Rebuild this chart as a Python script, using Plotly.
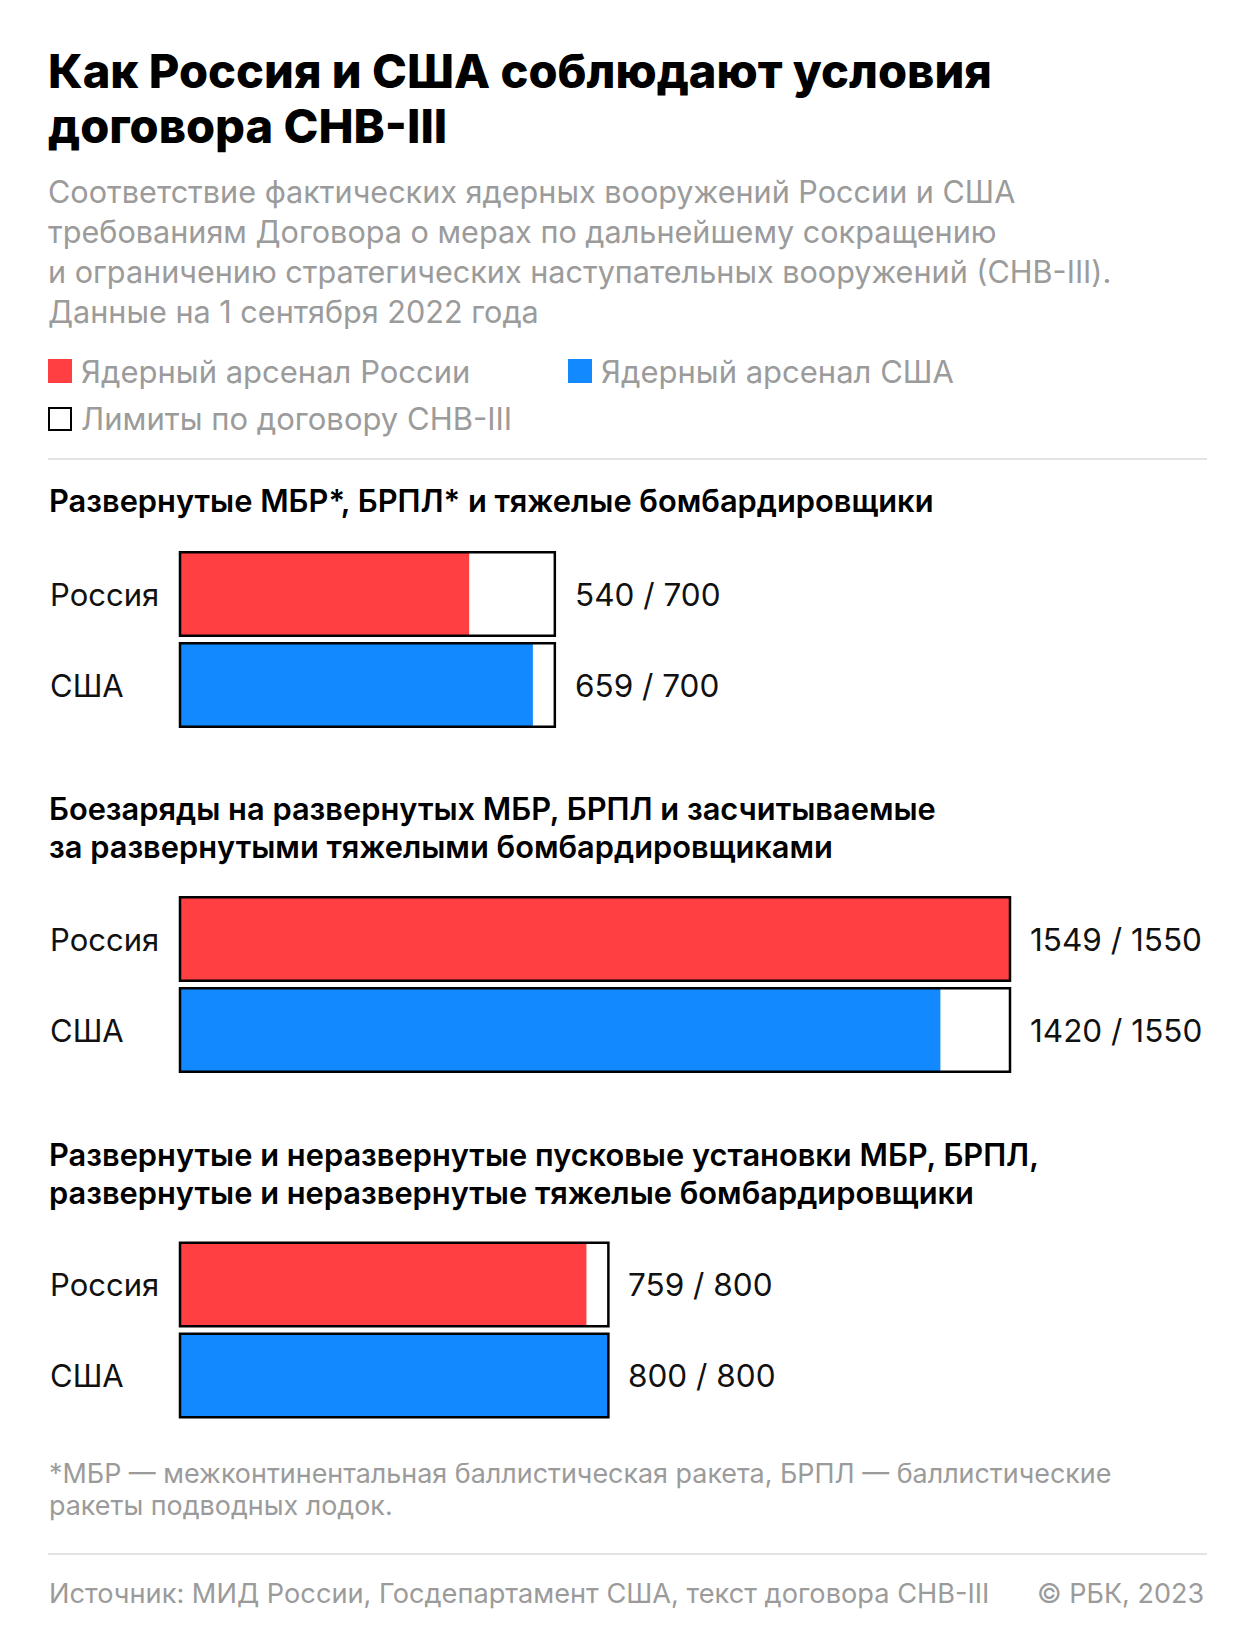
import plotly.graph_objects as go

W, H = 1240, 1636

categories = ["Россия", "США"]
section_titles = [
    ["Развернутые МБР*, БРПЛ* и тяжелые бомбардировщики"],
    ["Боезаряды на развернутых МБР, БРПЛ и засчитываемые",
     "за развернутыми тяжелыми бомбардировщиками"],
    ["Развернутые и неразвернутые пусковые установки МБР, БРПЛ,",
     "развернутые и неразвернутые тяжелые бомбардировщики"],
]
russia_values = [540, 1549, 759]
usa_values = [659, 1420, 800]
treaty_limits = [700, 1550, 800]

title_lines = ["Как Россия и США соблюдают условия", "договора СНВ-III"]
subtitle_lines = [
    "Соответствие фактических ядерных вооружений России и США",
    "требованиям Договора о мерах по дальнейшему сокращению",
    "и ограничению стратегических наступательных вооружений (СНВ-III).",
    "Данные на 1 сентября 2022 года",
]
legend_labels = ["Ядерный арсенал России", "Ядерный арсенал США", "Лимиты по договору СНВ-III"]
footnote_lines = [
    "*МБР — межконтинентальная баллистическая ракета, БРПЛ — баллистические",
    "ракеты подводных лодок.",
]
source_text = "Источник: МИД России, Госдепартамент США, текст договора СНВ-III"
copyright_text = "© РБК, 2023"

RED = "#FF3F42"
BLUE = "#1289FF"
GREY = "#9B9B9B"
FONT = "Inter"

def px(x):
    return x / W

def py(y):
    return 1 - y / H

# layout geometry (pixels)
x0_px, x1550_px = 172, 1002
k = (x1550_px - x0_px) / 1550
xr = [-10, 1560]
xdom = [px(x0_px + xr[0] * k), px(x0_px + xr[1] * k)]
rus_centers = [586, 931, 1276.5]
step = 91

fig = go.Figure()
annotations = []
shapes = []
layout_axes = {}

for i in range(3):
    ax = "" if i == 0 else str(i + 1)
    xa, ya = "x" + ax, "y" + ax
    top = rus_centers[i] - step / 2
    bot = rus_centers[i] + step * 1.5
    layout_axes["xaxis" + ax] = dict(domain=xdom, range=xr, visible=False, fixedrange=True)
    layout_axes["yaxis" + ax] = dict(domain=[py(bot), py(top)], range=[-0.5, 1.5],
                                     type="category", categoryorder="array",
                                     categoryarray=categories[::-1], visible=False)
    vals = [russia_values[i], usa_values[i]]
    fig.add_trace(go.Bar(
        x=vals, y=categories, orientation="h", xaxis=xa, yaxis=ya,
        marker=dict(color=[RED, BLUE], line=dict(width=0)), width=0.92,
        showlegend=False, hoverinfo="skip"))
    fig.add_trace(go.Bar(
        x=[treaty_limits[i]] * 2, y=categories, orientation="h", xaxis=xa, yaxis=ya,
        marker=dict(color="rgba(0,0,0,0)", line=dict(width=2.5, color="#000")), width=0.92,
        showlegend=False, hoverinfo="skip"))
    for c, v in zip(categories, vals):
        annotations.append(dict(x=treaty_limits[i], y=c, xref=xa, yref=ya,
                                text=f"{v} / {treaty_limits[i]}", showarrow=False,
                                xanchor="left", yanchor="middle", xshift=18,
                                font=dict(family=FONT, size=31.5, color="#111")))
        annotations.append(dict(x=px(40), y=c, xref="paper", yref=ya, text=c,
                                showarrow=False, xanchor="left", yanchor="middle",
                                font=dict(family=FONT, size=31, color="#111")))

def text(x, y, t, size, color, weight="normal", xanchor="left"):
    annotations.append(dict(x=px(x), y=py(y), xref="paper", yref="paper", text=t,
                            showarrow=False, xanchor=xanchor, yanchor="middle",
                            font=dict(family=FONT, size=size, color=color, weight=weight)))

for t, y in zip(title_lines, [62, 117]):
    text(38, y, t, 47, "#000", weight=800)
for t, y in zip(subtitle_lines, [183, 223, 263, 303]):
    text(38, y, t, 30.6, GREY)

# legend
leg = [(40, 363, RED, None, legend_labels[0]), (560, 363, BLUE, None, legend_labels[1]),
       (40, 411, "white", "#000", legend_labels[2])]
for x, y, fill, line, lab in leg:
    shapes.append(dict(type="rect", xref="paper", yref="paper",
                       x0=px(x + (1 if line else 0)), x1=px(x + 24 - (1 if line else 0)),
                       y0=py(y + 12 - (1 if line else 0)), y1=py(y - 12 + (1 if line else 0)),
                       fillcolor=fill, line=dict(width=2 if line else 0, color=line or fill)))
    text(x + 31, y, lab, 31, GREY)

shapes.append(dict(type="line", xref="paper", yref="paper", x0=px(40), x1=px(1199),
                   y0=py(451), y1=py(451), line=dict(color="#E3E3E3", width=2)))
shapes.append(dict(type="line", xref="paper", yref="paper", x0=px(40), x1=px(1199),
                   y0=py(1546), y1=py(1546), line=dict(color="#E3E3E3", width=2)))

heading_y = [[492], [800, 838], [1146, 1184]]
for lines, ys in zip(section_titles, heading_y):
    for t, y in zip(lines, ys):
        text(39, y, t, 30.8, "#000", weight=600)

for t, y in zip(footnote_lines, [1465, 1497]):
    text(39, y, t, 26.9, GREY)
text(39, 1585, source_text, 27.2, GREY)
text(1198, 1585, copyright_text, 27, GREY, xanchor="right")

fig.update_layout(width=W, height=H, margin=dict(l=0, r=0, t=0, b=0),
                  paper_bgcolor="white", plot_bgcolor="rgba(0,0,0,0)",
                  barmode="overlay", annotations=annotations, shapes=shapes,
                  showlegend=False, **layout_axes)
fig.write_html("out.html")
